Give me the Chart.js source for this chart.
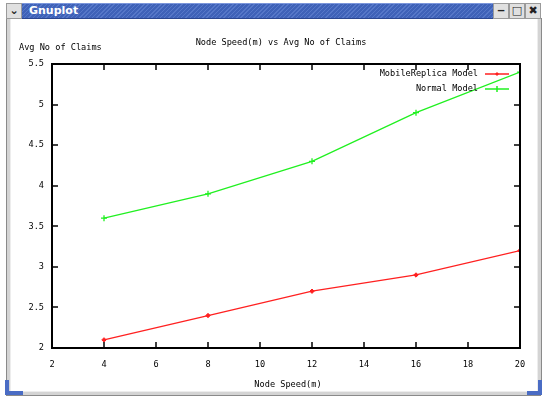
<!DOCTYPE html>
<html>
<head>
<meta charset="utf-8">
<script src="https://cdn.jsdelivr.net/npm/chart.js@4.4.1/dist/chart.umd.min.js"></script>
<style>
  html, body { margin: 0; padding: 0; background: #ffffff; }
  #win { position: relative; width: 542px; height: 398px; overflow: hidden; background: #ffffff; }
  .frameL { position: absolute; left: 6px; top: 18px; width: 3px; height: 376px; background: #d4d4d4; border-left: 1px solid #8a8a8a; border-right: 1px solid #ededed; }
  .frameR { position: absolute; left: 537px; top: 18px; width: 3px; height: 376px; background: #d4d4d4; border-left: 1px solid #ededed; border-right: 1px solid #8a8a8a; }
  .frameB { position: absolute; left: 6px; top: 391px; width: 535px; height: 3px; background: #d4d4d4; border-top: 1px solid #ededed; border-bottom: 1px solid #8a8a8a; }
  .cornerL1 { position: absolute; left: 5px; top: 380px; width: 4px; height: 15px; background: #4a6cc4; }
  .cornerL2 { position: absolute; left: 5px; top: 391px; width: 18px; height: 4px; background: #4a6cc4; }
  .cornerR1 { position: absolute; left: 538px; top: 380px; width: 4px; height: 15px; background: #4a6cc4; }
  .cornerR2 { position: absolute; left: 527px; top: 391px; width: 15px; height: 4px; background: #4a6cc4; }
  .titlebar { position: absolute; left: 22px; top: 3px; width: 471px; height: 16px;
    background: repeating-linear-gradient(135deg, #3f62b8 0px, #3f62b8 2px, #5677c8 2px, #5677c8 3px);
    border-top: 1px solid #7b96dc; border-bottom: 1px solid #2b4690; box-sizing: border-box; }
  .titlebar span { position: absolute; left: 7px; top: 0px; font: bold 11px "DejaVu Sans", sans-serif; color: #ffffff; line-height: 14px; }
  .btn { position: absolute; top: 3px; height: 16px; background: #e0e0e0; border: 1px solid #9a9a9a; box-sizing: border-box;
    font: bold 11px "DejaVu Sans", sans-serif; color: #222; text-align: center; line-height: 14px; }
  #plot { position: absolute; left: 0; top: 0; }
</style>
</head>
<body>
<div id="win">
  <div class="frameL"></div>
  <div class="frameR"></div>
  <div class="frameB"></div>
  <div class="cornerL1"></div><div class="cornerL2"></div>
  <div class="cornerR1"></div><div class="cornerR2"></div>
  <div class="btn" style="left:6px;width:16px;">&#x2304;</div>
  <div class="titlebar"><span>Gnuplot</span></div>
  <div class="btn" style="left:493px;width:16px;">&#x2012;</div>
  <div class="btn" style="left:509px;width:16px;">&#x25A1;</div>
  <div class="btn" style="left:525px;width:16px;">&#x2716;</div>
  <canvas id="plot" width="542" height="398"></canvas>
</div>
<script>
// Node speed on the x axis, average number of claims per model
const nodeSpeed = [4, 8, 12, 16, 20];
const mobileReplicaClaims = [2.1, 2.4, 2.7, 2.9, 3.2];
const normalClaims = [3.6, 3.9, 4.3, 4.9, 5.4];
const seriesNames = ['MobileReplica Model', 'Normal Model'];
const xTicks = [2, 4, 6, 8, 10, 12, 14, 16, 18, 20];
const yTicks = [2, 2.5, 3, 3.5, 4, 4.5, 5, 5.5];
const chartTitle = 'Node Speed(m) vs Avg No of Claims';
const xTitle = 'Node Speed(m)';
const yTitle = 'Avg No of Claims';

const FONT = '8.6px "DejaVu Sans Mono", monospace';
const PLOT = { left: 52, right: 520, top: 64, bottom: 348 };

function pts(xs, ys) { return xs.map((x, i) => ({ x: x, y: ys[i] })); }

// Gnuplot-style frame, inward ticks on all sides, labels and key
const gnuplotDecor = {
  id: 'gnuplotDecor',
  afterDatasetsDraw(chart) {
    const ctx = chart.ctx, a = chart.chartArea;
    const xs = chart.scales.x, ys = chart.scales.y;
    ctx.save();
    ctx.strokeStyle = '#000';
    ctx.lineWidth = 2;
    ctx.strokeRect(a.left, a.top, a.right - a.left, a.bottom - a.top);
    ctx.lineWidth = 1.5;
    ctx.beginPath();
    xTicks.forEach(v => {
      const px = Math.round(xs.getPixelForValue(v));
      ctx.moveTo(px, a.bottom); ctx.lineTo(px, a.bottom - 6);
      ctx.moveTo(px, a.top); ctx.lineTo(px, a.top + 6);
    });
    yTicks.forEach(v => {
      const py = Math.round(ys.getPixelForValue(v));
      ctx.moveTo(a.left, py); ctx.lineTo(a.left + 6, py);
      ctx.moveTo(a.right, py); ctx.lineTo(a.right - 6, py);
    });
    ctx.stroke();

    ctx.fillStyle = '#000';
    ctx.font = FONT;
    ctx.textBaseline = 'middle';
    ctx.textAlign = 'center';
    ctx.fillText(chartTitle, 281, 43);
    ctx.fillText(xTitle, 288, 385);
    ctx.textAlign = 'left';
    ctx.fillText(yTitle, 19, 48);

    // key, top right inside the frame
    chart.data.datasets.forEach((ds, i) => {
      const y = 74 + i * 15;
      ctx.fillStyle = '#000';
      ctx.textAlign = 'right';
      ctx.fillText(ds.label, 478, y);
      ctx.strokeStyle = ds.borderColor;
      ctx.lineWidth = 1.5;
      ctx.beginPath();
      ctx.moveTo(485, y); ctx.lineTo(509, y);
      ctx.stroke();
      ctx.beginPath();
      if (i === 0) {
        ctx.fillStyle = ds.borderColor;
        ctx.moveTo(497, y - 2); ctx.lineTo(499, y); ctx.lineTo(497, y + 2); ctx.lineTo(495, y); ctx.closePath();
        ctx.fill();
      } else {
        ctx.moveTo(497, y - 3); ctx.lineTo(497, y + 3);
        ctx.stroke();
      }
    });
    ctx.restore();
  }
};

const tickFont = { family: 'DejaVu Sans Mono', size: 8.6 };

new Chart(document.getElementById('plot'), {
  type: 'line',
  data: {
    datasets: [
      {
        label: seriesNames[0],
        data: pts(nodeSpeed, mobileReplicaClaims),
        borderColor: '#ff2020',
        backgroundColor: '#ff2020',
        borderWidth: 1.3,
        pointStyle: 'rectRot',
        pointRadius: 2.2,
        pointBorderWidth: 1,
        tension: 0,
        fill: false
      },
      {
        label: seriesNames[1],
        data: pts(nodeSpeed, normalClaims),
        borderColor: '#20f020',
        backgroundColor: '#20f020',
        borderWidth: 1.3,
        pointStyle: 'cross',
        pointRadius: 3,
        pointBorderWidth: 1.3,
        tension: 0,
        fill: false
      }
    ]
  },
  options: {
    responsive: false,
    animation: false,
    events: [],
    layout: { padding: { left: 0, right: 542 - PLOT.right, top: PLOT.top, bottom: 0 } },
    plugins: { legend: { display: false }, title: { display: false }, tooltip: { enabled: false } },
    scales: {
      x: {
        type: 'linear',
        min: 2, max: 20,
        afterBuildTicks(s) { s.ticks = xTicks.map(v => ({ value: v })); },
        afterFit(s) { s.height = 398 - PLOT.bottom; },
        grid: { display: false, drawTicks: false },
        border: { display: false },
        ticks: { color: '#000', font: tickFont, padding: 12, maxRotation: 0, autoSkip: false,
                 callback: v => String(v) }
      },
      y: {
        type: 'linear',
        min: 2, max: 5.5,
        afterBuildTicks(s) { s.ticks = yTicks.map(v => ({ value: v })); },
        afterFit(s) { s.width = PLOT.left; },
        grid: { display: false, drawTicks: false },
        border: { display: false },
        ticks: { color: '#000', font: tickFont, padding: 8, autoSkip: false,
                 callback: v => String(v) }
      }
    }
  },
  plugins: [gnuplotDecor]
});
</script>
</body>
</html>
